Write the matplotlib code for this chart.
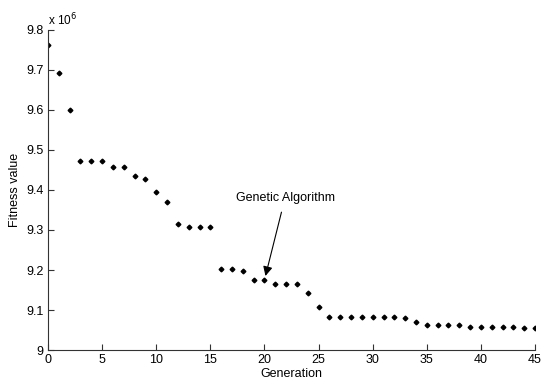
import matplotlib.pyplot as plt
from matplotlib.ticker import FuncFormatter

# fitness values in units of 1e6, one per generation
generations = list(range(46))
fitness = [
    9.762, 9.692, 9.600, 9.472, 9.472, 9.472, 9.458, 9.458, 9.435, 9.428,
    9.394, 9.369, 9.316, 9.308, 9.308, 9.308, 9.203, 9.203, 9.197, 9.175,
    9.175, 9.166, 9.166, 9.166, 9.142, 9.108, 9.083, 9.083, 9.083, 9.083,
    9.083, 9.083, 9.083, 9.081, 9.071, 9.062, 9.062, 9.062, 9.062, 9.058,
    9.058, 9.058, 9.058, 9.058, 9.055, 9.055,
]
x_ticks = [0, 5, 10, 15, 20, 25, 30, 35, 40, 45]
y_ticks = [9.0, 9.1, 9.2, 9.3, 9.4, 9.5, 9.6, 9.7, 9.8]

plt.rcParams["font.family"] = ["Liberation Sans", "DejaVu Sans"]
plt.rcParams["font.size"] = 9

fig = plt.figure(figsize=(5.42, 3.84), dpi=100)
ax = fig.add_axes([0.0886, 0.0885, 0.8985, 0.8335])

ax.plot(generations, fitness, linestyle="none", marker="D",
        markersize=2.4, color="black")

ax.set_xlim(0, 45)
ax.set_ylim(9.0, 9.8)
ax.set_xticks(x_ticks)
ax.set_yticks(y_ticks)
ax.yaxis.set_major_formatter(FuncFormatter(lambda v, p: f"{v:g}"))

for side in ["top", "right"]:
    ax.spines[side].set_visible(False)
for side in ["left", "bottom"]:
    ax.spines[side].set_linewidth(0.8)
    ax.spines[side].set_color("#333333")
ax.tick_params(direction="in", length=4, width=0.8, color="#333333", pad=3)

ax.set_xlabel("Generation", labelpad=1)
ax.set_ylabel("Fitness value", labelpad=4)
ax.text(0.0, 1.005, r"x 10$^6$", transform=ax.transAxes, ha="left",
        va="bottom", fontsize=8.5)

ax.annotate("Genetic Algorithm", xy=(20, 9.175), xytext=(21.9, 9.38),
            ha="center", va="center", fontsize=9,
            arrowprops=dict(arrowstyle="-|>", color="black", lw=0.8,
                            shrinkA=4, shrinkB=3, mutation_scale=14))

fig.savefig("out.png", dpi=100)
